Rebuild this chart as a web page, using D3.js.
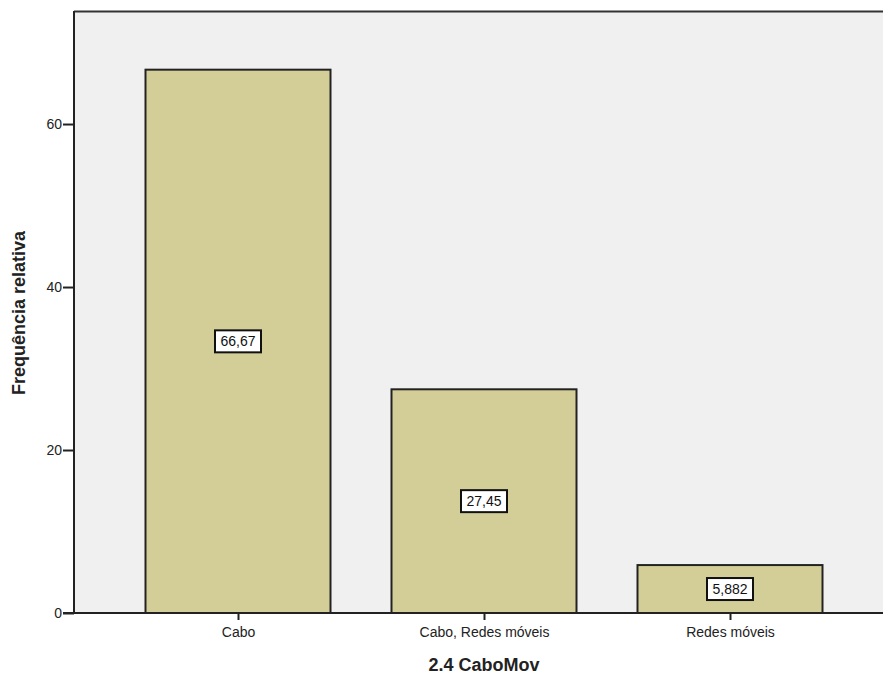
<!DOCTYPE html>
<html><head><meta charset="utf-8">
<script src="https://cdn.jsdelivr.net/npm/d3@7"></script>
<style>body{margin:0;background:#fff;}svg{display:block;font-family:Arial,"Liberation Sans",sans-serif;}</style>
</head><body>
<svg id="c" width="883" height="684"></svg>
<script>
const categories = ["Cabo", "Cabo, Redes móveis", "Redes móveis"];
const values = [66.67, 27.45, 5.882];
const valueLabels = ["66,67", "27,45", "5,882"];
const yTicks = [0, 20, 40, 60];
const xTitle = "2.4 CaboMov";
const yTitle = "Frequência relativa";

const svg = d3.select("#c");
const L = 74, T = 11, R = 883, B = 613;
const x = d3.scalePoint().domain(categories).range([238, 730]);
const bw = 185;
const y = d3.scaleLinear().domain([0, 73.87]).range([B, T]);

svg.append("rect").attr("x", L).attr("y", T).attr("width", R - L).attr("height", B - T).attr("fill", "#f0f0f0");
svg.append("line").attr("x1", L).attr("x2", R).attr("y1", T + 0.5).attr("y2", T + 0.5).attr("stroke", "#333").attr("stroke-width", 2);

svg.selectAll("rect.bar").data(values).enter().append("rect").attr("class", "bar")
  .attr("x", (d, i) => x(categories[i]) - bw / 2)
  .attr("y", d => y(d))
  .attr("width", bw)
  .attr("height", d => B - y(d))
  .attr("fill", "#d3ce98").attr("stroke", "#222").attr("stroke-width", 2);

// y axis
const ya = svg.append("g").attr("transform", `translate(${L},0)`)
  .call(d3.axisLeft(y).tickValues(yTicks).tickSize(11).tickPadding(1).tickFormat(d3.format("d")));
ya.select(".domain").attr("stroke", "#222").attr("stroke-width", 2).attr("d", `M0,${T}V${B}`);
ya.selectAll(".tick line").attr("stroke", "#222").attr("stroke-width", 2);
ya.selectAll("text").attr("font-size", 14).attr("fill", "#222").attr("font-family", "Arial, Liberation Sans, sans-serif");

// x axis
const xa = svg.append("g").attr("transform", `translate(0,${B})`)
  .call(d3.axisBottom(x).tickSize(7).tickPadding(7));
xa.select(".domain").attr("stroke", "#222").attr("stroke-width", 2).attr("d", `M${L - 11},0H${R}`);
xa.selectAll(".tick line").attr("stroke", "#222").attr("stroke-width", 2);
xa.selectAll("text").attr("font-size", 14).attr("fill", "#222").attr("font-family", "Arial, Liberation Sans, sans-serif");

// value labels
const lg = svg.selectAll("g.lab").data(values).enter().append("g").attr("class", "lab")
  .attr("transform", (d, i) => `translate(${x(categories[i])},${y(d / 2)})`);
lg.append("rect").attr("x", -23).attr("y", -11).attr("width", 46).attr("height", 22)
  .attr("fill", "#fff").attr("stroke", "#111").attr("stroke-width", 2);
lg.append("text").attr("text-anchor", "middle").attr("dy", "0.36em").attr("font-size", 14).attr("fill", "#111")
  .text((d, i) => valueLabels[i]);

svg.append("text").attr("x", 484).attr("y", 671).attr("text-anchor", "middle")
  .attr("font-size", 18).attr("font-weight", "bold").attr("fill", "#222").text(xTitle);
svg.append("text").attr("transform", "translate(25,313) rotate(-90)").attr("text-anchor", "middle")
  .attr("font-size", 18).attr("font-weight", "bold").attr("fill", "#222").text(yTitle);
</script>
</body></html>
